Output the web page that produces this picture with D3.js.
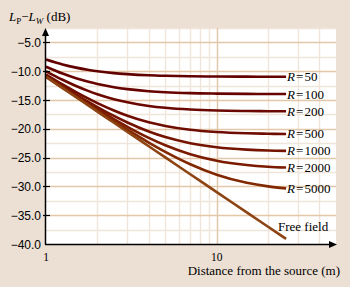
<!DOCTYPE html>
<html>
<head>
<meta charset="utf-8">
<script src="https://cdn.jsdelivr.net/npm/d3@7"></script>
<style>
    body { margin: 0; background: #ecdfd3; }
    svg { display: block; }
</style>
</head>
<body>
<svg id="chart" width="350" height="287"></svg>
<script>
// distance from the source (m)
let distances = [1, 1.25, 1.5, 1.75, 2, 2.5, 3, 4, 5, 7, 10, 15, 20, 25.5];

// room constants and their curves Lp - Lw (dB)
let roomLabels = ['50', '100', '200', '500', '1000', '2000', '5000'];
let r50   = [-7.97, -8.83, -9.38, -9.75, -10.00, -10.33, -10.51, -10.71, -10.80, -10.88, -10.93, -10.95, -10.96, -10.96];
let r100  = [-9.22, -10.41, -11.23, -11.80, -12.23, -12.78, -13.11, -13.47, -13.65, -13.81, -13.89, -13.94, -13.96, -13.97];
let r200  = [-10.02, -11.49, -12.57, -13.37, -13.99, -14.85, -15.40, -16.03, -16.35, -16.65, -16.82, -16.91, -16.95, -16.96];
let r500  = [-10.58, -12.30, -13.63, -14.69, -15.55, -16.83, -17.74, -18.87, -19.51, -20.17, -20.56, -20.78, -20.86, -20.90];
let r1000 = [-10.78, -12.60, -14.05, -15.23, -16.22, -17.76, -18.91, -20.47, -21.44, -22.50, -23.19, -23.61, -23.77, -23.84];
let r2000 = [-10.88, -12.76, -14.27, -15.53, -16.60, -18.32, -19.65, -21.57, -22.85, -24.41, -25.54, -26.28, -26.58, -26.73];
let r5000 = [-10.95, -12.86, -14.42, -15.72, -16.84, -18.69, -20.16, -22.39, -24.00, -26.15, -27.97, -29.38, -30.00, -30.35];
let freeField = [-10.99, -12.93, -14.51, -15.85, -17.01, -18.95, -20.53, -23.03, -24.97, -27.89, -30.99, -34.51, -37.01, -39.12];

// ticks
let yTicks = [-5, -10, -15, -20, -25, -30, -35, -40];
let yMinor = [-2.5, -7.5, -12.5, -17.5, -22.5, -27.5, -32.5, -37.5];
let xTicks = [1, 10];
let xMinor = [2, 3, 4, 5, 6, 7, 8, 9, 20, 30, 40];

let lineColors = ['#620000', '#660300', '#6a0700', '#6f0c00', '#741300', '#7a1b00', '#812800', '#8d4312'];

let svg = d3.select('#chart');

let x = d3.scaleLog().domain([1, 50]).range([46, 336]);
let y = d3.scaleLinear().domain([-40, -2.5]).range([244, 28]);

// plot background
svg.append('rect')
    .attr('x', x(1)).attr('y', y(-2.5))
    .attr('width', x(50) - x(1)).attr('height', y(-40) - y(-2.5))
    .attr('fill', 'white');

// minor grid
svg.append('g').selectAll('line').data(xMinor).enter()
    .append('line')
    .attr('x1', d => Math.round(x(d)) + 0.5).attr('x2', d => Math.round(x(d)) + 0.5)
    .attr('y1', y(-2.5)).attr('y2', y(-40))
    .attr('stroke', '#f0e5da').attr('stroke-width', 1.5);
svg.append('g').selectAll('line').data(yMinor).enter()
    .append('line')
    .attr('x1', x(1)).attr('x2', x(50))
    .attr('y1', d => Math.round(y(d)) + 0.5).attr('y2', d => Math.round(y(d)) + 0.5)
    .attr('stroke', '#f0e5da').attr('stroke-width', 1.5);

// major grid
svg.append('line')
    .attr('x1', Math.round(x(10)) + 0.5).attr('x2', Math.round(x(10)) + 0.5)
    .attr('y1', y(-2.5)).attr('y2', y(-40))
    .attr('stroke', '#e2c8a8').attr('stroke-width', 1.5);
svg.append('g').selectAll('line').data(yTicks.slice(0, -1)).enter()
    .append('line')
    .attr('x1', x(1)).attr('x2', x(50))
    .attr('y1', d => Math.round(y(d)) + 0.5).attr('y2', d => Math.round(y(d)) + 0.5)
    .attr('stroke', '#e2c8a8').attr('stroke-width', 1.5);

// curves
let series = [r50, r100, r200, r500, r1000, r2000, r5000, freeField];
let line = d3.line()
    .x((d, i) => x(distances[i]))
    .y(d => y(d))
    .curve(d3.curveMonotoneX);

svg.append('g').selectAll('path').data(series).enter()
    .append('path')
    .attr('d', line)
    .attr('fill', 'none')
    .attr('stroke', (d, i) => lineColors[i])
    .attr('stroke-width', 2.6);

// curve labels
let last = distances.length - 1;
let labels = svg.append('g')
    .attr('font-family', 'Liberation Serif, serif')
    .attr('font-size', 13)
    .attr('fill', 'black');
roomLabels.forEach(function(lab, i){
    let t = labels.append('text')
        .attr('x', x(distances[last]) + 1)
        .attr('y', y(series[i][last]) + 4.5);
    t.append('tspan').attr('font-style', 'italic').text('R');
    t.append('tspan').attr('dx', 1).text('=');
    t.append('tspan').attr('dx', 1).text(lab);
});
labels.append('text')
    .attr('x', 278).attr('y', 230.5)
    .text('Free field');

// axes lines with arrows
svg.append('line')
    .attr('x1', 45.5).attr('x2', 45.5).attr('y1', 33).attr('y2', 244.5)
    .attr('stroke', 'black').attr('stroke-width', 1.5);
svg.append('line')
    .attr('x1', 45).attr('x2', 331).attr('y1', 244.5).attr('y2', 244.5)
    .attr('stroke', 'black').attr('stroke-width', 1.5);
svg.append('path').attr('d', 'M45.5,28 L42,36 L49,36 Z').attr('fill', 'black');
svg.append('path').attr('d', 'M337,244.5 L329,241 L329,248 Z').attr('fill', 'black');

// y ticks and labels
svg.append('g').selectAll('line').data(yTicks.slice(0, -1)).enter()
    .append('line')
    .attr('x1', 43).attr('x2', 50)
    .attr('y1', d => Math.round(y(d)) + 0.5).attr('y2', d => Math.round(y(d)) + 0.5)
    .attr('stroke', 'black').attr('stroke-width', 1.2);
svg.append('g').selectAll('text').data(yTicks).enter()
    .append('text')
    .attr('x', 41).attr('y', d => y(d) + 4.5)
    .attr('text-anchor', 'end')
    .attr('font-family', 'Liberation Sans, Arial, sans-serif')
    .attr('font-size', 12)
    .text(d => '\u2212' + Math.abs(d).toFixed(1));

// x tick labels
svg.append('g').selectAll('text').data(xTicks).enter()
    .append('text')
    .attr('x', d => x(d)).attr('y', 260.5)
    .attr('text-anchor', 'middle')
    .attr('font-family', 'Liberation Serif, serif')
    .attr('font-size', 11.5)
    .text(d => d);

// axis titles
svg.append('text')
    .attr('x', 340).attr('y', 275)
    .attr('text-anchor', 'end')
    .attr('font-family', 'Liberation Serif, serif')
    .attr('font-size', 13)
    .text('Distance from the source (m)');

let title = svg.append('text')
    .attr('x', 9).attr('y', 20.5)
    .attr('font-family', 'Liberation Serif, serif')
    .attr('font-size', 13);
title.append('tspan').attr('font-style', 'italic').text('L');
title.append('tspan').attr('font-size', 9).attr('dy', 3).text('P');
title.append('tspan').attr('dy', -3).text('\u2212');
title.append('tspan').attr('font-style', 'italic').text('L');
title.append('tspan').attr('font-size', 9).attr('font-style', 'italic').attr('dy', 3).text('W');
title.append('tspan').attr('dy', -3).text(' (dB)');
</script>
</body>
</html>
